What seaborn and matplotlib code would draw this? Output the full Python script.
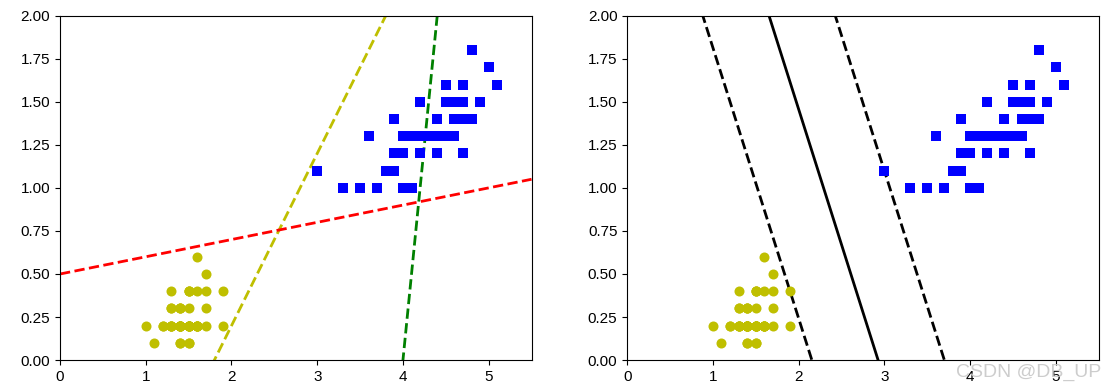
import numpy as np
import pandas as pd
import matplotlib
matplotlib.use("Agg")
import matplotlib.pyplot as plt
import seaborn as sns

plt.rcParams['font.family'] = ['Liberation Sans', 'DejaVu Sans']

# Iris setosa (class 0) petal length / width
setosa_len = [1.4, 1.4, 1.3, 1.5, 1.4, 1.7, 1.4, 1.5, 1.4, 1.5, 1.5, 1.6, 1.4, 1.1, 1.2, 1.5, 1.3, 1.4, 1.7, 1.5,
              1.7, 1.5, 1.0, 1.7, 1.9, 1.6, 1.6, 1.5, 1.4, 1.6, 1.6, 1.5, 1.5, 1.4, 1.5, 1.2, 1.3, 1.4, 1.3, 1.5,
              1.3, 1.3, 1.3, 1.6, 1.9, 1.4, 1.6, 1.4, 1.5, 1.4]
setosa_wid = [0.2, 0.2, 0.2, 0.2, 0.2, 0.4, 0.3, 0.2, 0.2, 0.1, 0.2, 0.2, 0.1, 0.1, 0.2, 0.4, 0.4, 0.3, 0.3, 0.3,
              0.2, 0.4, 0.2, 0.5, 0.2, 0.2, 0.4, 0.2, 0.2, 0.2, 0.2, 0.4, 0.1, 0.2, 0.2, 0.2, 0.2, 0.1, 0.2, 0.2,
              0.3, 0.3, 0.2, 0.6, 0.4, 0.3, 0.2, 0.2, 0.2, 0.2]
# Iris versicolor (class 1) petal length / width
versi_len = [4.7, 4.5, 4.9, 4.0, 4.6, 4.5, 4.7, 3.3, 4.6, 3.9, 3.5, 4.2, 4.0, 4.7, 3.6, 4.4, 4.5, 4.1, 4.5, 3.9,
             4.8, 4.0, 4.9, 4.7, 4.3, 4.4, 4.8, 5.0, 4.5, 3.5, 3.8, 3.7, 3.9, 5.1, 4.5, 4.5, 4.7, 4.4, 4.1, 4.0,
             4.4, 4.6, 4.0, 3.3, 4.2, 4.2, 4.2, 4.3, 3.0, 4.1]
versi_wid = [1.4, 1.5, 1.5, 1.3, 1.5, 1.3, 1.6, 1.0, 1.3, 1.4, 1.0, 1.5, 1.0, 1.4, 1.3, 1.4, 1.5, 1.0, 1.5, 1.1,
             1.8, 1.3, 1.5, 1.2, 1.3, 1.4, 1.4, 1.7, 1.5, 1.0, 1.1, 1.0, 1.2, 1.6, 1.5, 1.6, 1.5, 1.3, 1.3, 1.3,
             1.2, 1.4, 1.2, 1.0, 1.3, 1.2, 1.3, 1.3, 1.1, 1.3]

# "bad" models on the left: y = slope * x + intercept
bad_slopes = [5.0, 1.0, 0.1]
bad_intercepts = [-20.0, -1.8, 0.5]
bad_colors = ['g', 'y', 'r']

# linear SVM (C = inf) on the right
svm_w = [1.29411744, 0.82352928]
svm_b = -3.78823471

xmin, xmax = 0, 5.5
ymin, ymax = 0, 2

fig = plt.figure(figsize=(11.12, 3.91), dpi=100)
ax1 = fig.add_axes([0.054, 0.079, 0.424, 0.881])
ax2 = fig.add_axes([0.564, 0.079, 0.424, 0.881])

x0 = np.linspace(xmin, xmax, 200)

def draw_points(ax):
    sns.scatterplot(x=versi_len, y=versi_wid, ax=ax, marker='s', color='b', s=50, linewidth=0, zorder=3)
    sns.scatterplot(x=setosa_len, y=setosa_wid, ax=ax, marker='o', color='y', s=52, linewidth=0, zorder=3)

for m, c, col in zip(bad_slopes, bad_intercepts, bad_colors):
    sns.lineplot(x=x0, y=m * x0 + c, ax=ax1, color=col, linestyle='--', linewidth=2)
draw_points(ax1)

boundary = -svm_w[0] / svm_w[1] * x0 - svm_b / svm_w[1]
margin = 1 / svm_w[1]
sns.lineplot(x=x0, y=boundary, ax=ax2, color='k', linestyle='-', linewidth=2)
sns.lineplot(x=x0, y=boundary + margin, ax=ax2, color='k', linestyle='--', linewidth=2)
sns.lineplot(x=x0, y=boundary - margin, ax=ax2, color='k', linestyle='--', linewidth=2)
draw_points(ax2)

for ax in (ax1, ax2):
    ax.set_xlim(xmin, xmax)
    ax.set_ylim(ymin, ymax)
    ax.set_xticks([0, 1, 2, 3, 4, 5])
    ax.set_yticks([0, 0.25, 0.5, 0.75, 1.0, 1.25, 1.5, 1.75, 2.0])
    ax.set_yticklabels([f"{v:.2f}" for v in [0, 0.25, 0.5, 0.75, 1.0, 1.25, 1.5, 1.75, 2.0]])
    ax.tick_params(labelsize=11)
    ax.set_xlabel("")
    ax.set_ylabel("")

fig.text(0.99, 0.025, "CSDN @DB_UP", color='#c8c8c8', fontsize=14, ha='right', va='bottom', alpha=0.9)

fig.savefig("out.png", dpi=100)
